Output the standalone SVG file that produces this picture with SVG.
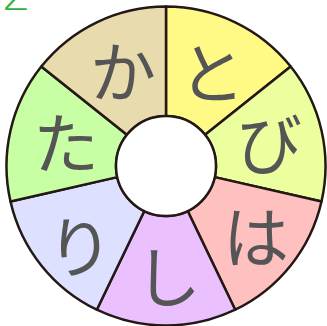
<svg xmlns="http://www.w3.org/2000/svg" width="327" height="326" viewBox="0 0 327 326">
<style>
.sec{stroke:#231815;stroke-width:2.5;stroke-linejoin:round}
.lbl{font-family:"Noto Sans CJK JP",sans-serif;font-size:66px;fill:#555;text-anchor:middle;dominant-baseline:central}
</style>
<rect width="327" height="326" fill="#fff"/>
<text x="2" y="10" font-family="DejaVu Sans" font-weight="200" font-size="46" fill="#2bb33a">2</text>
<g id="n-to"><path class="sec" fill="#FFF985" d="M166,116 L166,6.5 A159.5,159.5 0 0 1 290.70,66.55 L205.09,134.83 A50,50 0 0 0 166,116 Z"/><text class="lbl" x="212" y="69">と</text></g>
<g id="n-bi"><path class="sec" fill="#EBFF9F" d="M205.09,134.83 L290.70,66.55 A159.5,159.5 0 0 1 321.50,201.49 L214.75,177.13 A50,50 0 0 0 205.09,134.83 Z"/><text class="lbl" x="269" y="140">び</text></g>
<g id="n-ha"><path class="sec" fill="#FFC0C0" d="M214.75,177.13 L321.50,201.49 A159.5,159.5 0 0 1 235.20,309.70 L187.69,211.05 A50,50 0 0 0 214.75,177.13 Z"/><text class="lbl" x="256" y="233">は</text></g>
<g id="n-shi"><path class="sec" fill="#EAC0FF" d="M187.69,211.05 L235.20,309.70 A159.5,159.5 0 0 1 96.80,309.70 L144.31,211.05 A50,50 0 0 0 187.69,211.05 Z"/><text class="lbl" x="168" y="273">し</text></g>
<g id="n-ri"><path class="sec" fill="#DDE0FF" d="M144.31,211.05 L96.80,309.70 A159.5,159.5 0 0 1 10.50,201.49 L117.25,177.13 A50,50 0 0 0 144.31,211.05 Z"/><text class="lbl" x="80" y="243">り</text></g>
<g id="n-ta"><path class="sec" fill="#C8FFA4" d="M117.25,177.13 L10.50,201.49 A159.5,159.5 0 0 1 41.30,66.55 L126.91,134.83 A50,50 0 0 0 117.25,177.13 Z"/><text class="lbl" x="66" y="139">た</text></g>
<g id="n-ka"><path class="sec" fill="#E8DCAF" d="M126.91,134.83 L41.30,66.55 A159.5,159.5 0 0 1 166,6.5 L166,116 A50,50 0 0 0 126.91,134.83 Z"/><text class="lbl" x="123" y="68">か</text></g>
<g id="hub"><circle cx="166" cy="166" r="50" fill="#fff" stroke="#231815" stroke-width="2.5"/></g>
<g id="connectors"></g>
</svg>
